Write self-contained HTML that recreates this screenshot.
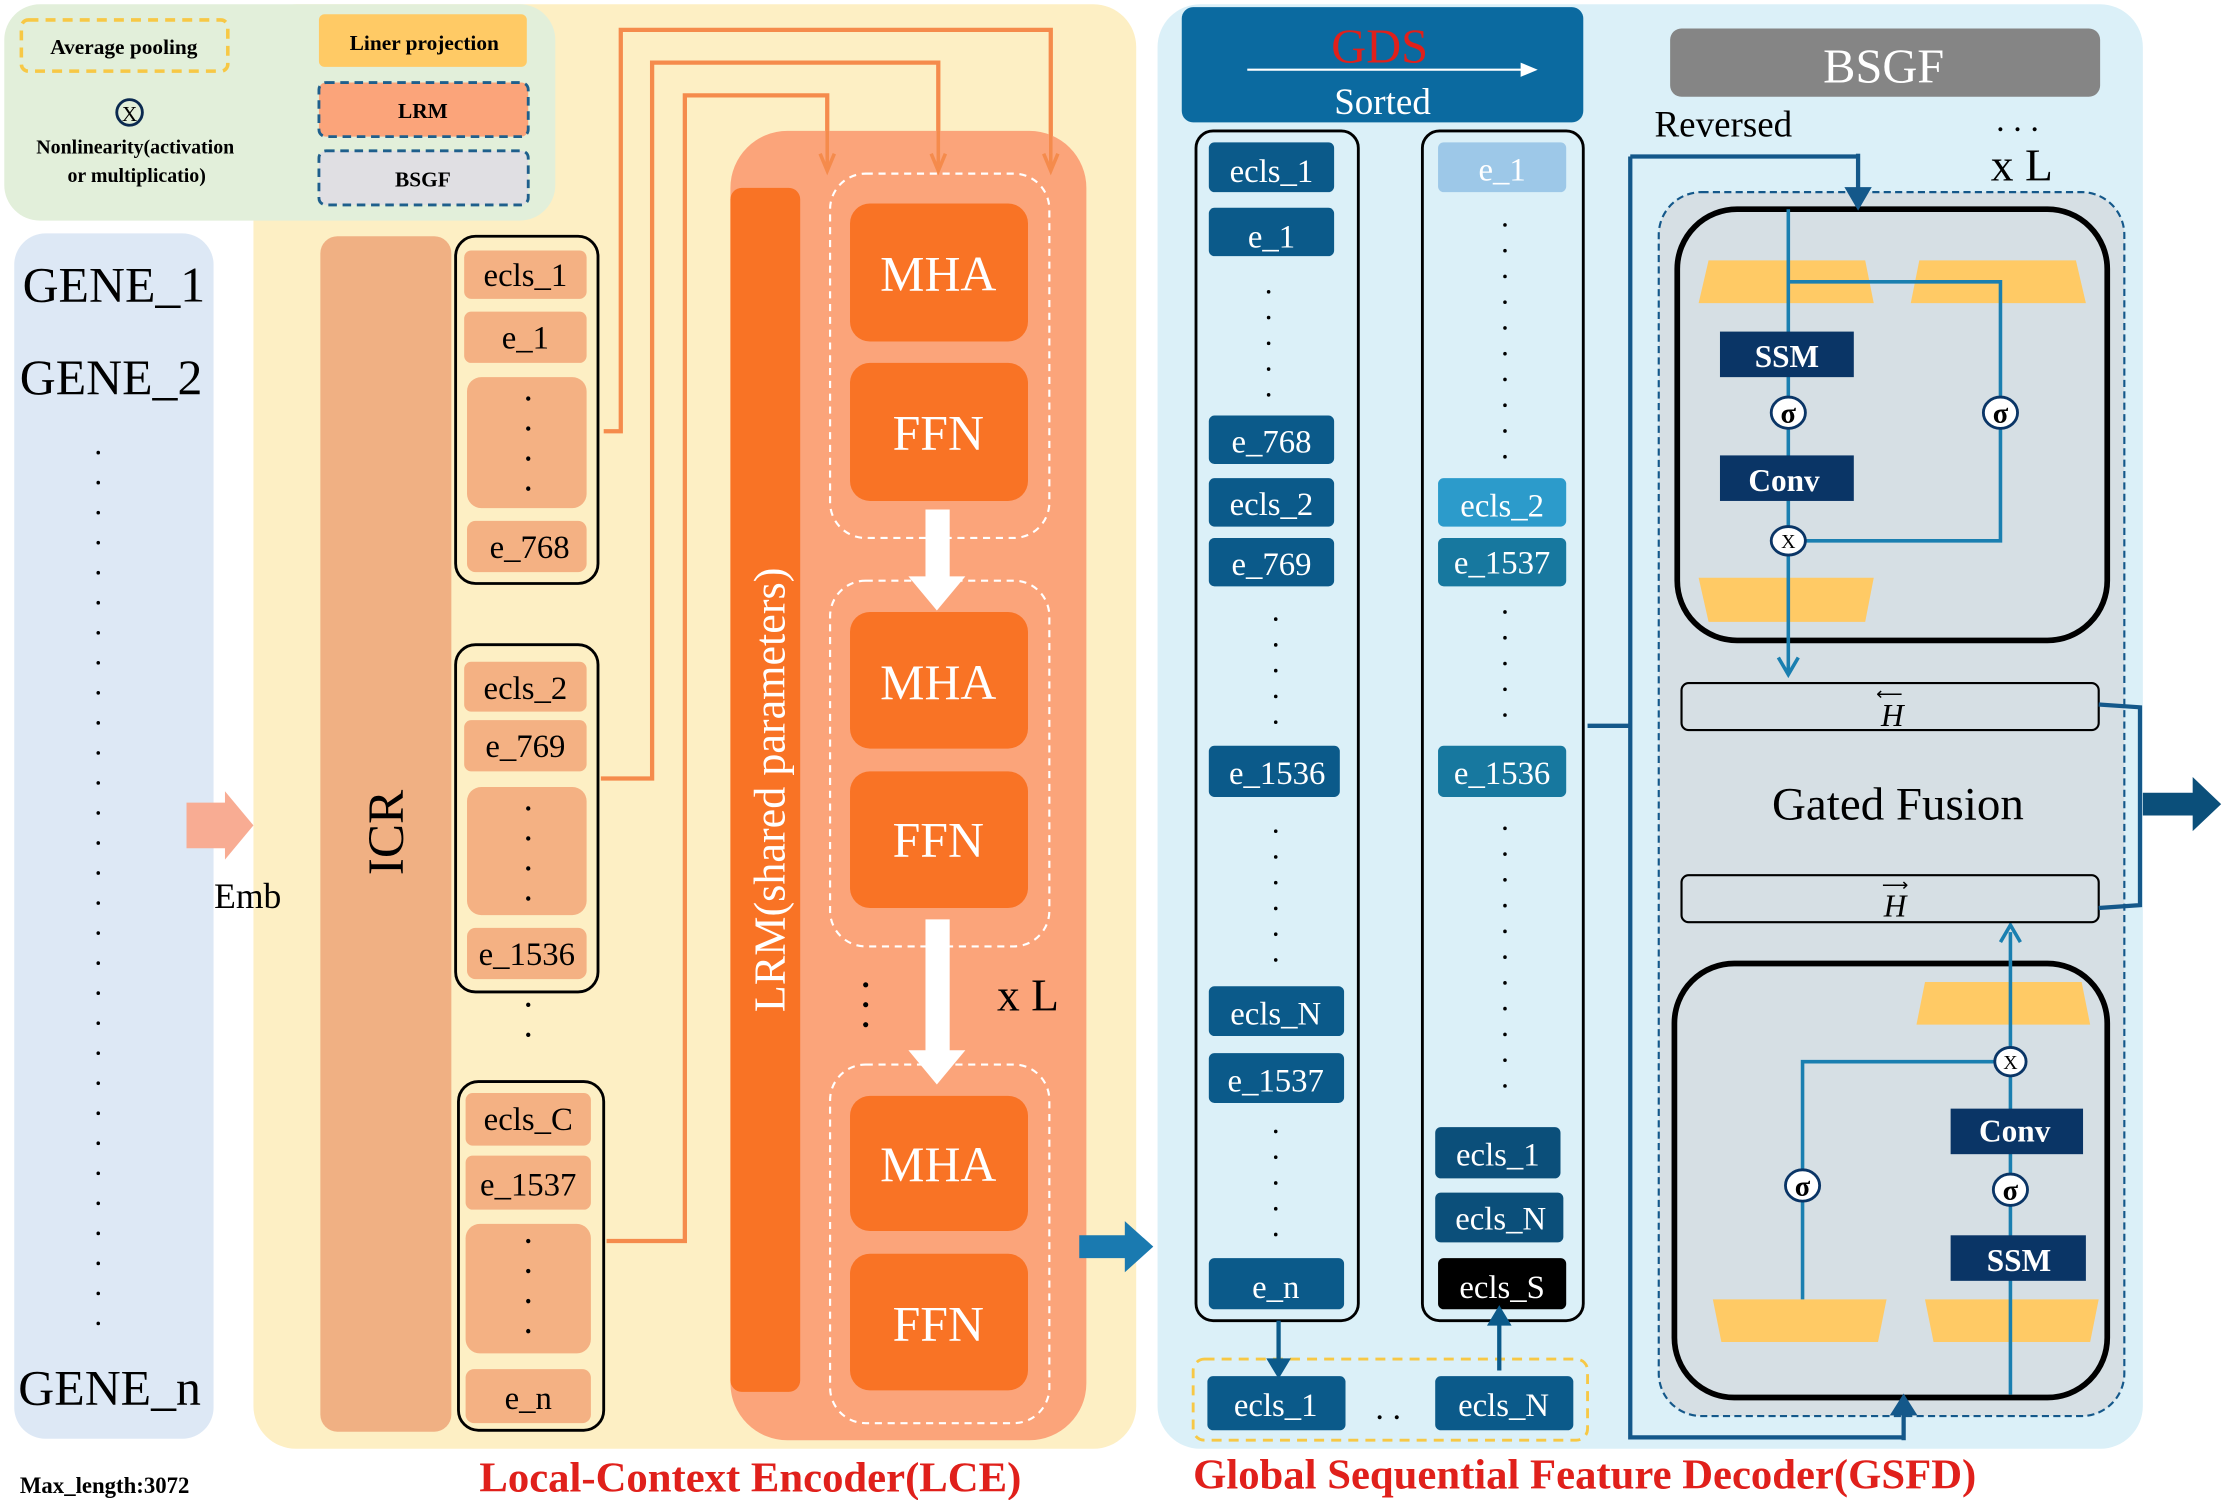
<!DOCTYPE html>
<html><head><meta charset="utf-8"><style>html,body{margin:0;padding:0;background:#fff}svg{display:block}</style></head>
<body>
<svg width="2224" height="1500" viewBox="0 0 1562 1054" preserveAspectRatio="none" xmlns="http://www.w3.org/2000/svg" font-family="'Liberation Serif', serif">
<!-- LCE panel -->
<rect x="178" y="3" width="620" height="1015" rx="30" fill="#fdefc4"/>
<!-- Legend -->
<rect x="3" y="3" width="387" height="152" rx="25" fill="#e2efda"/>
<rect x="15" y="14" width="145" height="36" rx="5" fill="none" stroke="#f7c845" stroke-width="2.5" stroke-dasharray="7,5"/>
<text x="87" y="38" font-size="15" font-weight="bold" text-anchor="middle">Average pooling</text>
<circle cx="91" cy="79" r="9" fill="none" stroke="#0b2a50" stroke-width="2"/>
<text x="91" y="85" font-size="15" text-anchor="middle">X</text>
<text x="95" y="108" font-size="14" font-weight="bold" text-anchor="middle">Nonlinearity(activation</text>
<text x="96" y="128" font-size="14" font-weight="bold" text-anchor="middle">or multiplicatio)</text>
<rect x="224" y="10" width="146" height="37" rx="4" fill="#ffca65"/>
<text x="298" y="35" font-size="15" font-weight="bold" text-anchor="middle">Liner projection</text>
<rect x="224" y="58" width="147" height="38" rx="5" fill="#fba47a" stroke="#1e5f8c" stroke-width="2" stroke-dasharray="6,4"/>
<text x="297" y="83" font-size="15" font-weight="bold" text-anchor="middle">LRM</text>
<rect x="224" y="106" width="147" height="38" rx="5" fill="#e0dfe3" stroke="#1e5f8c" stroke-width="2" stroke-dasharray="6,4"/>
<text x="297" y="131" font-size="15" font-weight="bold" text-anchor="middle">BSGF</text>
<!-- genes -->
<rect x="10" y="164" width="140" height="847" rx="22" fill="#dde8f5"/>
<text x="80" y="212" font-size="35" text-anchor="middle">GENE_1</text>
<text x="78" y="277" font-size="35" text-anchor="middle">GENE_2</text>
<line x1="69" y1="318" x2="69" y2="945" stroke="#000" stroke-width="2.5" stroke-dasharray="0.1,21" stroke-linecap="round"/>
<text x="77" y="987" font-size="35" text-anchor="middle">GENE_n</text>
<text x="14" y="1049" font-size="16" font-weight="bold">Max_length:3072</text>
<path d="M131,564 L158,564 L158,556 L178,580 L158,604 L158,596 L131,596 Z" fill="#f8ac93"/>
<text x="174" y="638" font-size="25" text-anchor="middle">Emb</text>
<!-- ICR -->
<rect x="225" y="166" width="92" height="840" rx="12" fill="#f0b083"/>
<text transform="translate(283,585) rotate(-90)" font-size="36" text-anchor="middle">ICR</text>
<!-- groups -->
<g fill="#f4b183">
<rect x="320" y="166" width="100" height="244" rx="14" fill="none" stroke="#000" stroke-width="2"/>
<rect x="326" y="176" width="86" height="34" rx="5"/><rect x="326" y="219" width="86" height="36" rx="5"/>
<rect x="328" y="265" width="84" height="92" rx="10"/><rect x="328" y="366" width="84" height="36" rx="6"/>
<rect x="320" y="453" width="100" height="244" rx="14" fill="none" stroke="#000" stroke-width="2"/>
<rect x="326" y="465" width="86" height="35" rx="5"/><rect x="326" y="506" width="86" height="36" rx="5"/>
<rect x="328" y="553" width="84" height="90" rx="10"/><rect x="328" y="652" width="84" height="36" rx="6"/>
<rect x="322" y="760" width="102" height="245" rx="14" fill="none" stroke="#000" stroke-width="2"/>
<rect x="327" y="768" width="88" height="37" rx="5"/><rect x="327" y="812" width="88" height="38" rx="5"/>
<rect x="327" y="860" width="88" height="91" rx="10"/><rect x="327" y="962" width="88" height="38" rx="6"/>
</g>
<g font-size="23" text-anchor="middle">
<text x="369" y="201">ecls_1</text><text x="369" y="245">e_1</text><text x="372" y="392">e_768</text>
<text x="369" y="491">ecls_2</text><text x="369" y="532">e_769</text><text x="370" y="678">e_1536</text>
<text x="371" y="794">ecls_C</text><text x="371" y="840">e_1537</text><text x="371" y="990">e_n</text>
</g>
<g stroke="#000" stroke-width="3" stroke-dasharray="0.1,21" stroke-linecap="round">
<line x1="371" y1="280" x2="371" y2="352"/><line x1="371" y1="568" x2="371" y2="636"/>
<line x1="371" y1="706" x2="371" y2="748"/><line x1="371" y1="872" x2="371" y2="944"/>
</g>
<!-- orange connectors -->
<g fill="none" stroke="#f58b4c" stroke-width="3">
<path d="M424,303 L436,303 L436,21 L738,21 L738,118"/>
<path d="M422,547 L458,547 L458,44 L659,44 L659,118"/>
<path d="M426,872 L481,872 L481,67 L581,67 L581,118"/>
</g>
<!-- LRM -->
<rect x="513" y="92" width="250" height="920" rx="40" fill="#fba47a"/>
<g fill="none" stroke="#f58b4c" stroke-width="2.5">
<path d="M733,108 L738,120 L743,108"/><path d="M654,108 L659,120 L664,108"/><path d="M576,108 L581,120 L586,108"/>
<line x1="738" y1="92" x2="738" y2="118"/><line x1="659" y1="92" x2="659" y2="118"/><line x1="581" y1="92" x2="581" y2="118"/>
</g>
<rect x="513" y="132" width="49" height="846" rx="8" fill="#f97325"/>
<text transform="translate(551,555) rotate(-90)" font-size="31" fill="#fff" text-anchor="middle">LRM(shared parameters)</text>
<g fill="none" stroke="#fff" stroke-width="1.5" stroke-dasharray="5,4">
<rect x="583" y="122" width="154" height="256" rx="25"/><rect x="583" y="408" width="154" height="257" rx="25"/><rect x="583" y="748" width="154" height="252" rx="25"/>
</g>
<g fill="#f97325">
<rect x="597" y="143" width="125" height="97" rx="14"/><rect x="597" y="255" width="125" height="97" rx="14"/>
<rect x="597" y="430" width="125" height="96" rx="14"/><rect x="597" y="542" width="125" height="96" rx="14"/>
<rect x="597" y="770" width="125" height="95" rx="14"/><rect x="597" y="881" width="125" height="96" rx="14"/>
</g>
<g font-size="35" fill="#fff" text-anchor="middle">
<text x="659" y="204">MHA</text><text x="659" y="316">FFN</text><text x="659" y="491">MHA</text>
<text x="659" y="602">FFN</text><text x="659" y="830">MHA</text><text x="659" y="942">FFN</text>
</g>
<path d="M650,358 L667,358 L667,405 L678,405 L658,429 L638,405 L650,405 Z" fill="#fff"/>
<path d="M650,646 L667,646 L667,738 L678,738 L658,762 L638,738 L650,738 Z" fill="#fff"/>
<g fill="#000"><circle cx="608" cy="692" r="1.8"/><circle cx="608" cy="706" r="1.8"/><circle cx="608" cy="720" r="1.8"/></g>
<text x="722" y="710" font-size="32" text-anchor="middle">x L</text>
<path d="M758,868 L790,868 L790,858 L810,876 L790,894 L790,884 L758,884 Z" fill="#1a7ab0"/>
<text x="527" y="1048" font-size="30" font-weight="bold" fill="#e0201b" text-anchor="middle">Local-Context Encoder(LCE)</text>
<!-- GSFD -->
<rect x="813" y="3" width="692" height="1015" rx="30" fill="#dbf0f8"/>
<rect x="830" y="5" width="282" height="81" rx="8" fill="#0b6aa0"/>
<text x="969" y="44" font-size="34" fill="#e0201b" text-anchor="middle">GDS</text>
<line x1="876" y1="49" x2="1072" y2="49" stroke="#fff" stroke-width="1.5"/><path d="M1068,44 L1080,49 L1068,54 Z" fill="#fff"/>
<text x="971" y="80" font-size="26" fill="#fff" text-anchor="middle">Sorted</text>
<rect x="840" y="92" width="114" height="836" rx="12" fill="none" stroke="#000" stroke-width="2"/>
<rect x="999" y="92" width="113" height="836" rx="12" fill="none" stroke="#000" stroke-width="2"/>
<g fill="#0b5a8a">
<rect x="849" y="100" width="88" height="35" rx="4"/><rect x="849" y="146" width="88" height="34" rx="4"/>
<rect x="849" y="292" width="88" height="34" rx="4"/><rect x="849" y="336" width="88" height="34" rx="4"/>
<rect x="849" y="378" width="88" height="34" rx="4"/><rect x="849" y="524" width="92" height="36" rx="4"/>
<rect x="849" y="693" width="95" height="35" rx="4"/><rect x="849" y="740" width="95" height="35" rx="4"/>
<rect x="849" y="884" width="95" height="36" rx="4"/>
<rect x="1010" y="378" width="90" height="34" rx="4" fill="#17789f"/>
<rect x="1010" y="524" width="90" height="36" rx="4" fill="#17789f"/>
<rect x="1008" y="792" width="88" height="36" rx="4" fill="#0b4f7a"/>
<rect x="1008" y="838" width="90" height="35" rx="4" fill="#0b4f7a"/>
<rect x="848" y="967" width="97" height="38" rx="4"/><rect x="1008" y="967" width="97" height="38" rx="4"/>
</g>
<rect x="1010" y="100" width="90" height="35" rx="4" fill="#9dc8e8"/>
<rect x="1010" y="336" width="90" height="34" rx="4" fill="#2c9bcb"/>
<rect x="1010" y="884" width="90" height="36" rx="4" fill="#000"/>
<g font-size="23" fill="#fff" text-anchor="middle">
<text x="893" y="128">ecls_1</text><text x="893" y="174">e_1</text><text x="893" y="318">e_768</text>
<text x="893" y="362">ecls_2</text><text x="893" y="404">e_769</text><text x="897" y="551">e_1536</text>
<text x="896" y="720">ecls_N</text><text x="896" y="767">e_1537</text><text x="896" y="912">e_n</text>
<text x="1055" y="127">e_1</text><text x="1055" y="363">ecls_2</text><text x="1055" y="403">e_1537</text>
<text x="1055" y="551">e_1536</text><text x="1052" y="819">ecls_1</text><text x="1054" y="864">ecls_N</text>
<text x="1055" y="912">ecls_S</text><text x="896" y="995">ecls_1</text><text x="1056" y="995">ecls_N</text>
</g>
<g stroke="#000" stroke-width="2.5" stroke-dasharray="0.1,18" stroke-linecap="round">
<line x1="891" y1="205" x2="891" y2="278"/><line x1="896" y1="435" x2="896" y2="508"/>
<line x1="896" y1="584" x2="896" y2="678"/><line x1="896" y1="795" x2="896" y2="870"/>
<line x1="1057" y1="158" x2="1057" y2="325"/><line x1="1057" y1="430" x2="1057" y2="505"/>
<line x1="1057" y1="582" x2="1057" y2="770"/>
</g>
<rect x="838" y="955" width="277" height="57" rx="8" fill="none" stroke="#f7c845" stroke-width="2" stroke-dasharray="7,5"/>
<text x="975" y="997" font-size="24" text-anchor="middle">. .</text>
<g stroke="#0b5a8a" stroke-width="3" fill="#0b5a8a">
<line x1="898" y1="928" x2="898" y2="958"/><path d="M892,956 L904,956 L898,966 Z"/>
<line x1="1053" y1="963" x2="1053" y2="928"/><path d="M1047,930 L1059,930 L1053,920 Z"/>
</g>
<!-- BSGF -->
<rect x="1173" y="20" width="302" height="48" rx="8" fill="#858585"/>
<text x="1323" y="58" font-size="34" fill="#fff" text-anchor="middle">BSGF</text>
<text x="1162" y="96" font-size="26">Reversed</text>
<text x="1417" y="92" font-size="24" text-anchor="middle">. . .</text>
<text x="1420" y="127" font-size="32" text-anchor="middle">x L</text>
<g fill="none" stroke="#14588a" stroke-width="3">
<path d="M1115,510 L1145,510 M1145,110 L1145,1010 L1337,1010 M1145,110 L1305,110"/>
</g>
<rect x="1165" y="135" width="327" height="860" rx="30" fill="#d6dfe4" stroke="#14588a" stroke-width="1.5" stroke-dasharray="5,3"/>
<rect x="1178" y="147" width="302" height="303" rx="42" fill="#d6dfe4" stroke="#000" stroke-width="4"/>
<rect x="1176" y="677" width="304" height="305" rx="42" fill="#d6dfe4" stroke="#000" stroke-width="4"/>
<g stroke="#14588a" stroke-width="3" fill="#14588a">
<line x1="1305" y1="108" x2="1305" y2="136"/><path d="M1298,133 L1312,133 L1305,145 Z"/>
<line x1="1337" y1="1012" x2="1337" y2="990"/><path d="M1330,993 L1344,993 L1337,982 Z"/>
</g>
<g fill="#ffca65">
<path d="M1200,183 L1310,183 L1316,213 L1193,213 Z"/><path d="M1348,183 L1458,183 L1465,213 L1342,213 Z"/>
<path d="M1193,406 L1316,406 L1310,437 L1200,437 Z"/>
<path d="M1352,690 L1462,690 L1468,720 L1346,720 Z"/>
<path d="M1203,913 L1325,913 L1319,943 L1209,943 Z"/><path d="M1352,913 L1474,913 L1468,943 L1358,943 Z"/>
</g>
<g fill="none" stroke="#1a7fb0" stroke-width="2.5">
<path d="M1256,147 L1256,472 M1256,198 L1405,198 L1405,380 L1256,380"/>
<path d="M1412,980 L1412,655 M1412,746 L1266,746 L1266,913"/>
</g>
<path d="M1249,462 L1256,474 L1263,462" fill="none" stroke="#1a7fb0" stroke-width="2.5"/>
<path d="M1405,662 L1412,650 L1419,662" fill="none" stroke="#1a7fb0" stroke-width="2.5"/>
<g fill="#0a3566">
<rect x="1208" y="233" width="94" height="32"/><rect x="1208" y="320" width="94" height="32"/>
<rect x="1370" y="779" width="93" height="32"/><rect x="1370" y="868" width="95" height="32"/>
</g>
<g font-size="22" font-weight="bold" fill="#fff" text-anchor="middle">
<text x="1255" y="258">SSM</text><text x="1253" y="345">Conv</text>
<text x="1415" y="802">Conv</text><text x="1418" y="893">SSM</text>
</g>
<g fill="#fff" stroke="#0a3566" stroke-width="2">
<ellipse cx="1256" cy="290" rx="12" ry="11"/><ellipse cx="1405" cy="290" rx="12" ry="11"/>
<ellipse cx="1256" cy="380" rx="12" ry="10"/><ellipse cx="1412" cy="746" rx="11" ry="10"/>
<ellipse cx="1412" cy="836" rx="12" ry="11"/><ellipse cx="1266" cy="833" rx="12" ry="11"/>
</g>
<g font-size="20" font-weight="bold" text-anchor="middle">
<text x="1256" y="297">σ</text><text x="1405" y="297">σ</text><text x="1412" y="843">σ</text><text x="1266" y="840">σ</text>
</g>
<g font-size="14" text-anchor="middle"><text x="1256" y="385">X</text><text x="1412" y="751">X</text></g>
<rect x="1181" y="480" width="293" height="33" rx="5" fill="#d6dfe4" stroke="#000" stroke-width="1.5"/>
<rect x="1181" y="615" width="293" height="33" rx="5" fill="#d6dfe4" stroke="#000" stroke-width="1.5"/>
<text x="1329" y="510" font-size="22" font-style="italic" text-anchor="middle">H</text>
<text x="1327" y="492" font-size="13" text-anchor="middle">⟵</text>
<text x="1331" y="644" font-size="22" font-style="italic" text-anchor="middle">H</text>
<text x="1331" y="626" font-size="13" text-anchor="middle">⟶</text>
<text x="1333" y="576" font-size="33" text-anchor="middle">Gated Fusion</text>
<path d="M1474,495 L1503,497 L1503,636 L1474,638" fill="none" stroke="#14588a" stroke-width="3"/>
<path d="M1505,557 L1540,557 L1540,546 L1560,565 L1540,584 L1540,573 L1505,573 Z" fill="#0b4f7a"/>
<text x="1113" y="1046" font-size="30" font-weight="bold" fill="#e0201b" text-anchor="middle">Global Sequential Feature Decoder(GSFD)</text>
</svg>
</body></html>
